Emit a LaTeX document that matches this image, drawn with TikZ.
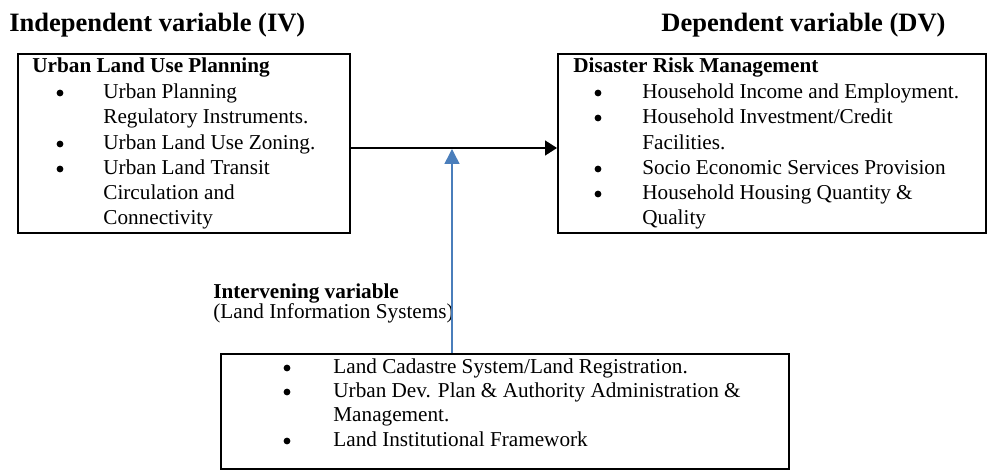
\documentclass[tikz,border=0pt]{standalone}
\usepackage{fontspec}
\setmainfont{Liberation Serif}
\usetikzlibrary{arrows.meta}
\definecolor{ivblue}{HTML}{4A7EBB}
\newcommand{\bodyfont}{\fontsize{10.6pt}{12.5pt}\selectfont}
\newcommand{\headfont}{\fontsize{13.25pt}{15pt}\selectfont\bfseries}
\begin{document}
\begin{tikzpicture}[x=0.5pt,y=-0.5pt]
  \tikzset{vbox/.style={draw,rectangle,line width=1pt,inner sep=0pt,anchor=north west},
    ln/.style={anchor=base west,inner sep=0pt,font=\bodyfont},
    ttl/.style={anchor=base west,inner sep=0pt,font=\bodyfont\bfseries},
    hd/.style={anchor=base west,inner sep=0pt,font=\headfont},
    bul/.style={circle,fill,inner sep=0pt,minimum size=3.4pt},
    arr/.style={line width=0.75pt,-{Triangle[length=6pt,width=7.5pt]}},
    barr/.style={line width=0.75pt,ivblue,-{Triangle[length=7.5pt,width=7.5pt]}}}
  \useasboundingbox (0,0) rectangle (987,470);
  % headings
  \node[hd] (ivh) at (9,32) {Independent variable (IV)};
  \node[hd] (dvh) at (661,32) {Dependent variable (DV)};
  % independent variable
  \node[vbox,minimum width=166pt,minimum height=89.5pt] (iv) at (17,53) {};
  \node[ttl] (ivt) at (32,73) {Urban Land Use Planning};
  \node[bul] (ivb1) at (60,93) {};
  \node[bul] (ivb2) at (60,144) {};
  \node[bul] (ivb3) at (60,169) {};
  \node[ln] (iv1) at (103,99) {Urban Planning};
  \node[ln] (iv2) at (103,124) {Regulatory Instruments.};
  \node[ln] (iv3) at (103,150) {Urban Land Use Zoning.};
  \node[ln] (iv4) at (103,175) {Urban Land Transit};
  \node[ln] (iv5) at (103,200) {Circulation and};
  \node[ln] (iv6) at (103,225) {Connectivity};
  % dependent variable
  \node[vbox,minimum width=214pt,minimum height=89.5pt] (dv) at (557,53) {};
  \node[ttl] (dvt) at (573,73) {Disaster Risk Management};
  \node[bul] (dvb1) at (598,93) {};
  \node[bul] (dvb2) at (598,118) {};
  \node[bul] (dvb3) at (598,169) {};
  \node[bul] (dvb4) at (598,194) {};
  \node[ln] (dv1) at (642,99) {Household Income and Employment.};
  \node[ln] (dv2) at (642,124) {Household Investment/Credit};
  \node[ln] (dv3) at (642,150) {Facilities.};
  \node[ln] (dv4) at (642,175) {Socio Economic Services Provision};
  \node[ln] (dv5) at (642,200) {Household Housing Quantity \&};
  \node[ln] (dv6) at (642,225) {Quality};
  % intervening variable
  \node[ttl] (lish) at (213,299) {Intervening variable};
  \node[ln] (lisn) at (213,319) {(Land Information Systems)};
  \node[vbox,minimum width=284pt,minimum height=57.5pt] (lis) at (220,353) {};
  \node[bul] (lisb1) at (287,368) {};
  \node[bul] (lisb2) at (287,392) {};
  \node[bul] (lisb3) at (287,441) {};
  \node[ln] (lis1) at (333,374) {Land Cadastre System/Land Registration.};
  \node[ln] (lis2) at (333,398) {Urban Dev. Plan \& Authority Administration \&};
  \node[ln] (lis3) at (333,422) {Management.};
  \node[ln] (lis4) at (333,447) {Land Institutional Framework};
  % links
  \coordinate (hit) at (452,149);
  \draw[arr] ([yshift=-2.25pt]iv.east) -- ([yshift=-2.25pt]dv.west);
  \draw[barr] (lis.north -| hit) -- (hit);
\end{tikzpicture}
\end{document}
